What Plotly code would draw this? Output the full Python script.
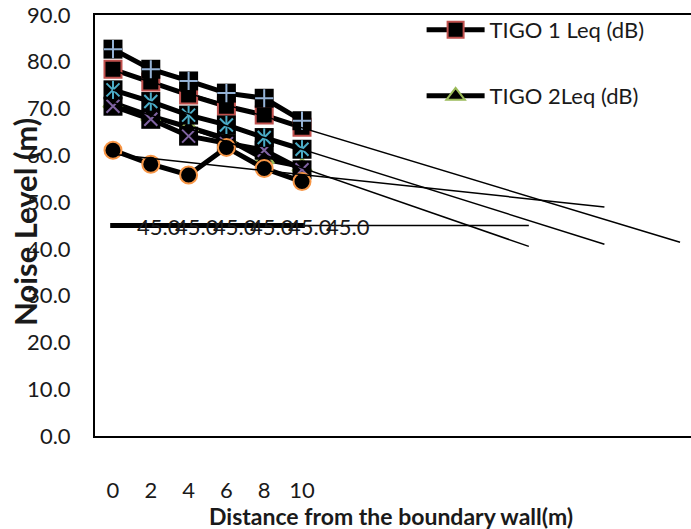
import numpy as np
import plotly.graph_objects as go

# ---------------- data ----------------
distance = [0, 2, 4, 6, 8, 10]
tick_labels = ["0", "2", "4", "6", "8", "10"]
tigo1_leq = [78.4, 75.7, 72.9, 70.5, 68.6, 66.0]      # square (red border)
tigo2_leq = [71.2, 68.4, 66.0, 63.6, 59.2, 57.6]      # triangle (green border)
site3_leq = [70.5, 67.7, 64.1, 62.5, 61.1, 56.9]      # X (purple)
site4_leq = [74.0, 71.5, 68.6, 66.5, 63.8, 61.3]      # star (teal)
site5_leq = [61.1, 58.1, 55.8, 61.7, 57.2, 54.4]      # circle (orange)
site6_leq = [82.7, 78.4, 75.9, 73.3, 72.2, 67.4]      # plus (light blue)
limit_leq = [45.0, 45.0, 45.0, 45.0, 45.0, 45.0]      # reference level with labels
y_ticks = [0, 10, 20, 30, 40, 50, 60, 70, 80, 90]

FONT = "Lato"
BLACK = "#000000"
TXT = "#1a1a1a"
fig = go.Figure()

def base(y, name, symbol, size, line_color=None, show=False, legend="legend"):
    mk = dict(symbol=symbol, size=size, color=BLACK)
    if line_color:
        mk["line"] = dict(color=line_color, width=2)
    else:
        mk["line"] = dict(width=0)
    fig.add_trace(go.Scatter(x=distance, y=y, mode="lines+markers", name=name,
                             line=dict(color=BLACK, width=5),
                             marker=mk, showlegend=show, legend=legend))

def overlay(y, symbol, color, size=13):
    fig.add_trace(go.Scatter(x=distance, y=y, mode="markers", showlegend=False,
                             hoverinfo="skip",
                             marker=dict(symbol=symbol, size=size, color=color,
                                         line=dict(color=color, width=2))))

# series in Excel order (later drawn on top)
base(tigo1_leq, "TIGO 1 Leq (dB)", "square", 17, "#C0504D", show=True, legend="legend")
base(tigo2_leq, "TIGO 2Leq (dB)", "triangle-up", 17, "#9BBB59", show=True, legend="legend2")
base(site3_leq, "Site 3 Leq (dB)", "square", 19)
overlay(site3_leq, "x-thin-open", "#8064A2")
base(site4_leq, "Site 4 Leq (dB)", "square", 19)
overlay(site4_leq, "x-thin-open", "#4BACC6")
overlay(site4_leq, "line-ns-open", "#4BACC6")
base(site5_leq, "Site 5 Leq (dB)", "circle", 17, "#F79646")
base(site6_leq, "Site 6 Leq (dB)", "square", 19)
overlay(site6_leq, "cross-thin-open", "#95B3D7")
fig.add_trace(go.Scatter(x=distance, y=limit_leq, mode="lines+markers", name="Limit",
                         line=dict(color=BLACK, width=5),
                         marker=dict(symbol="line-ew-open", size=4, color=BLACK,
                                     line=dict(color=BLACK, width=5)),
                         showlegend=False))

# linear trendlines with forward forecast (in periods of 2 m)
step = distance[1] - distance[0]
trend_specs = [(tigo1_leq, 10), (site4_leq, 8), (site5_leq, 8), (tigo2_leq, 6), (limit_leq, 6)]
for vals, fwd in trend_specs:
    slope, icpt = np.polyfit(distance, vals, 1)
    xs = [distance[0], distance[-1] + fwd * step]
    fig.add_trace(go.Scatter(x=xs, y=[icpt + slope * v for v in xs], mode="lines",
                             line=dict(color=BLACK, width=1.5), showlegend=False,
                             hoverinfo="skip"))

# data labels on the reference series
for xv, yv in zip(distance, limit_leq):
    fig.add_annotation(x=xv, y=yv, text=f"{yv:.1f}", showarrow=False,
                       xanchor="left", yanchor="middle", xshift=22, yshift=-1,
                       font=dict(family=FONT, size=22, color=TXT))

leg_common = dict(xanchor="left", yanchor="middle", bgcolor="rgba(0,0,0,0)",
                  font=dict(family=FONT, size=22, color=TXT), itemwidth=58)
fig.update_layout(
    width=691, height=529,
    margin=dict(l=95, r=0, t=15, b=93, autoexpand=False),
    paper_bgcolor="white", plot_bgcolor="white",
    font=dict(family=FONT, size=22, color=TXT),
    legend=dict(x=0.548, y=(436 - 30) / 421, **leg_common),
    legend2=dict(x=0.548, y=(436 - 96) / 421, **leg_common),
    showlegend=True,
)
fig.update_xaxes(range=[-0.952, 30.58], tickvals=distance, ticktext=tick_labels,
                 showgrid=False, zeroline=False, showline=True, linecolor=BLACK,
                 linewidth=2, mirror=True, ticks="", ticklabelstandoff=34,
                 tickfont=dict(family=FONT, size=22, color=TXT))
fig.update_yaxes(range=[0, 90], tickvals=y_ticks, tickformat=".1f",
                 showgrid=False, zeroline=False, showline=True, linecolor=BLACK,
                 linewidth=2, ticks="", ticklabelstandoff=18,
                 tickfont=dict(family=FONT, size=22, color=TXT))

fig.add_annotation(xref="paper", yref="paper", x=(25 - 95) / 596, y=(436 - 222) / 421,
                   text="<b>Noise Level (m)</b>", textangle=-90, showarrow=False,
                   xanchor="center", yanchor="middle",
                   font=dict(family=FONT, size=31, color=TXT))
fig.add_annotation(xref="paper", yref="paper", x=(391 - 95) / 596, y=(436 - 516) / 421,
                   text="<b>Distance from the boundary wall(m)</b>", showarrow=False,
                   xanchor="center", yanchor="middle",
                   font=dict(family=FONT, size=23, color=TXT))

fig.write_html("out.html", config={"displayModeBar": False},
               post_script="document.body.style.margin='0px';")
